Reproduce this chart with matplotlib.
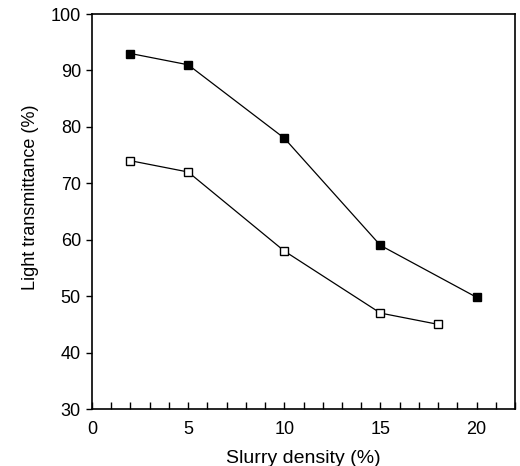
import matplotlib
matplotlib.use("Agg")
import matplotlib.pyplot as plt
from matplotlib.ticker import MultipleLocator

plt.rcParams['font.family'] = ['Liberation Sans', 'DejaVu Sans']

x_filled = [2, 5, 10, 15, 20]
y_filled = [93, 91, 78, 59, 49.8]
x_open = [2, 5, 10, 15, 18]
y_open = [74, 72, 58, 47, 45]

fig = plt.figure(figsize=(5.2, 4.66), dpi=100)
ax = fig.add_axes([92/520, (466-409)/466, (515-92)/520, (409-14)/466])

ax.plot(x_filled, y_filled, '-', color='black', lw=0.9, marker='s', ms=6,
        mfc='black', mec='black', zorder=3)
ax.plot(x_open, y_open, '-', color='black', lw=0.9, marker='s', ms=6,
        mfc='white', mec='black', mew=1.0, zorder=3)

ax.set_xlim(0, 22)
ax.set_ylim(30, 100)
ax.xaxis.set_major_locator(MultipleLocator(5))
ax.xaxis.set_minor_locator(MultipleLocator(1))
ax.yaxis.set_major_locator(MultipleLocator(10))
ax.tick_params(axis='x', which='both', direction='in', length=5, width=1.0, labelsize=13, pad=9)
ax.tick_params(axis='y', direction='out', length=4, width=1.0, labelsize=13, pad=4)
for s in ax.spines.values():
    s.set_linewidth(1.2)

ax.set_xlabel('Slurry density (%)', fontsize=14, labelpad=8)
ax.set_ylabel('Light transmittance (%)', fontsize=13)
ax.yaxis.set_label_coords(-0.125, 0.535)

fig.savefig('out.png', dpi=100)
